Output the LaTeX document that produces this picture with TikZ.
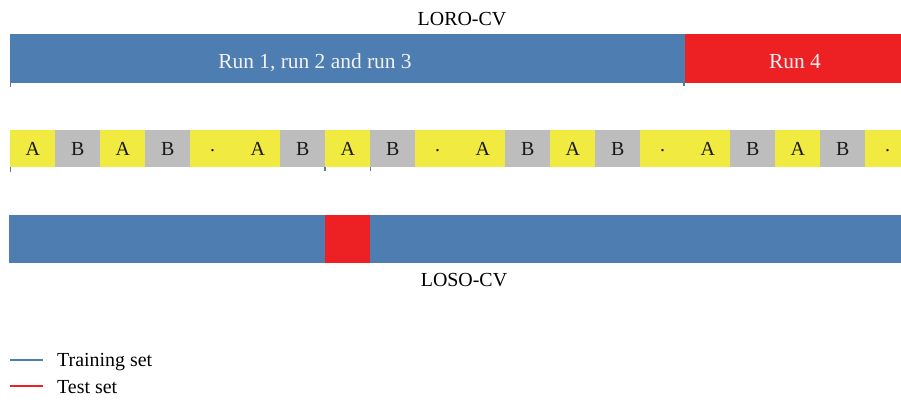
\documentclass[tikz,border=0pt]{standalone}
\usepackage{fontspec}
\setmainfont{Liberation Serif}
\definecolor{tblue}{RGB}{78,125,177}
\definecolor{tred}{RGB}{237,32,36}
\definecolor{tyel}{RGB}{241,234,64}
\definecolor{tgray}{RGB}{189,189,189}
\definecolor{tlight}{RGB}{242,242,242}
\newcommand{\lowdot}{\vphantom{A}\raisebox{3.5bp}{.}}
\begin{document}
\begin{tikzpicture}[x=1bp,y=-1bp,
  bar/.style={draw=none, inner sep=0, anchor=north west, minimum height=49bp},
  cell/.style={draw=none, inner sep=0, anchor=north west, minimum width=45bp, minimum height=37bp,
    font=\fontsize{20}{24}\selectfont, text=black!90},
  lbl/.style={inner sep=0, anchor=base, font=\fontsize{20}{24}\selectfont},
  barlbl/.style={lbl, text=tlight, font=\fontsize{21.5}{24}\selectfont},
  tick/.style={draw=tblue, line width=1.5bp},
  legline/.style={line width=2.5bp}]
\useasboundingbox (0,0) rectangle (901,401);
% LORO-CV
\node[lbl] (loro) at (462,25.5) {LORO-CV};
\node[bar, fill=tblue, minimum width=675bp] (train) at (10,34) {};
\node[bar, fill=tred, minimum width=216bp] (test) at (685,34) {};
\node[barlbl] (runs) at (315,68) {Run 1, run 2 and run 3};
\node[barlbl] (run4) at (795,68) {Run 4};
\coordinate (t1) at (10.5,83);
\coordinate (t1e) at (10.5,87);
\coordinate (t2) at (684,83);
\coordinate (t2e) at (684,86);
\draw[tick] (t1) -- (t1e);
\draw[tick] (t2) -- (t2e);
% sessions row
\foreach \lab [count=\i from 0] in {A,B,A,B,\lowdot,A,B,A,B,\lowdot,A,B,A,B,\lowdot,A,B,A,B,\lowdot}{
  \pgfmathtruncatemacro{\m}{mod(\i,5)}
  \ifnum\m=1 \def\cc{tgray}\else\ifnum\m=3 \def\cc{tgray}\else\def\cc{tyel}\fi\fi
  \node[cell, fill=\cc] (c\i) at ({10+45*\i},130) {\lab};
}
\coordinate (r1) at (10.5,167);
\coordinate (r1e) at (10.5,172);
\draw[tick] (r1) -- (r1e);
\draw[tick] (c7.south west) -- ++(0,4);
\draw[tick] (c7.south east) -- ++(0,4);
% LOSO-CV
\node[bar, fill=tblue, minimum width=316bp, minimum height=48bp] (lb1) at (9,215) {};
\node[bar, fill=tred, minimum width=45bp, minimum height=48bp] (lr) at (325,215) {};
\node[bar, fill=tblue, minimum width=531bp, minimum height=48bp] (lb2) at (370,215) {};
\node[lbl] (loso) at (464,286) {LOSO-CV};
% legend
\coordinate (la) at (10,360);
\coordinate (lb) at (43,360);
\coordinate (lc) at (10,386);
\coordinate (ld) at (43,386);
\draw[legline, tblue] (la) -- (lb);
\draw[legline, tred] (lc) -- (ld);
\node[lbl, anchor=base west] (ltrain) at (57,366) {Training set};
\node[lbl, anchor=base west] (ltest) at (57,393) {Test set};
\end{tikzpicture}
\end{document}
